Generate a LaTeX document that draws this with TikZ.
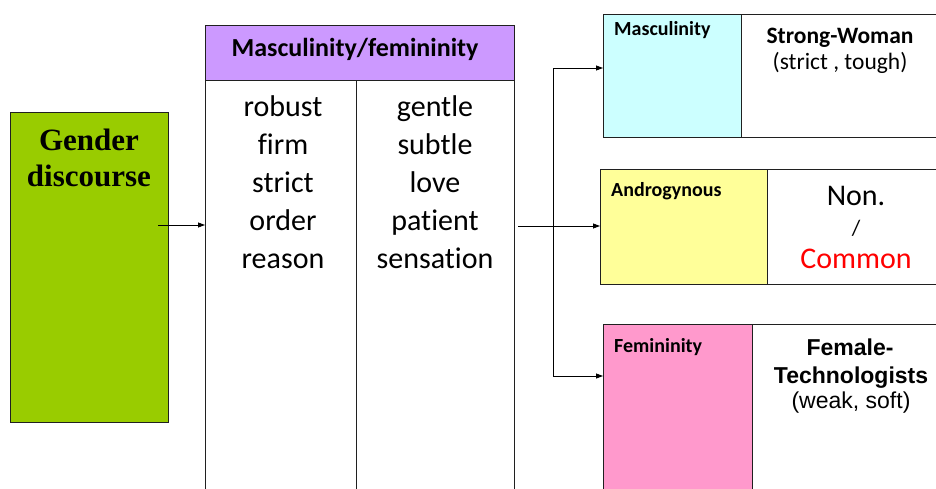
\documentclass[tikz,border=0pt]{standalone}
\usepackage{fontspec}
\setmainfont{Carlito}[Ligatures=NoCommon]
\newfontfamily\arialf{Liberation Sans}
\newfontfamily\timesf{Liberation Serif}
\usetikzlibrary{arrows.meta}
\definecolor{gcol}{HTML}{99CC00}
\definecolor{pcol}{HTML}{CC99FF}
\definecolor{ccol}{HTML}{CCFFFF}
\definecolor{ycol}{HTML}{FFFF99}
\definecolor{mcol}{HTML}{FF99CC}
\definecolor{bcol}{HTML}{202020}
\tikzset{
  box/.style={draw=bcol, line width=0.9pt, rectangle, inner sep=0pt, anchor=north west},
  arr/.style={line width=0.8pt, -{Triangle[length=7pt,width=5pt]}},
  ln/.style={line width=0.8pt},
  txt/.style={inner sep=0pt, anchor=base},
}
\begin{document}
\begin{tikzpicture}[x=1pt,y=-1pt]
\useasboundingbox (0,0) rectangle (936,488);
\clip (0,0) rectangle (936,488);
% green box
\node[box, fill=gcol, minimum width=158pt, minimum height=310pt] (gen) at (10,112) {};
\node[txt, align=center, font=\timesf\bfseries\fontsize{31}{36}\selectfont] (gentxt) at (89,186) {Gender\\discourse};
% middle
\node[box, fill=pcol, minimum width=309pt, minimum height=55pt] (mhead) at (205,25) {};
\node[txt, font=\bfseries\fontsize{26}{30}\selectfont] (mheadtxt) at (355,56) {Masculinity/femininity};
\node[box, minimum width=151pt, minimum height=430pt] (colL) at (205,80) {};
\node[box, minimum width=158pt, minimum height=430pt] (colR) at (356,80) {};
\node[txt, align=center, font=\fontsize{30}{38}\selectfont] (wordsL) at (283,268) {robust\\firm\\strict\\order\\reason};
\node[txt, align=center, font=\fontsize{30}{38}\selectfont] (wordsR) at (435,268) {gentle\\subtle\\love\\patient\\sensation};
% right boxes
\node[box, fill=ccol, minimum width=138pt, minimum height=123pt] (masc) at (603,14) {};
\node[box, minimum width=210pt, minimum height=123pt] (mascR) at (741,14) {};
\node[txt, anchor=base west, font=\bfseries\fontsize{20}{24}\selectfont] (masctxt) at (614,35) {Masculinity};
\node[txt, font=\bfseries\fontsize{23.5}{27}\selectfont] (sw) at (840,43) {Strong-Woman};
\node[txt, font=\fontsize{23.5}{27}\selectfont] (swsub) at (840,69) {(strict , tough)};

\node[box, fill=ycol, minimum width=167pt, minimum height=115pt] (andro) at (600,169) {};
\node[box, minimum width=190pt, minimum height=115pt] (androR) at (767,169) {};
\node[txt, anchor=base west, font=\bfseries\fontsize{20}{24}\selectfont] (androtxt) at (611,196) {Androgynous};
\node[txt, font=\fontsize{30}{36}\selectfont] (non) at (856,205) {Non.};
\node[txt, font=\fontsize{22}{26}\selectfont] (slash) at (856,235) {/};
\node[txt, text=red, font=\fontsize{30}{36}\selectfont] (common) at (856,268) {Common};

\node[box, fill=mcol, minimum width=149pt, minimum height=180pt] (fem) at (603,324) {};
\node[box, minimum width=200pt, minimum height=180pt] (femR) at (752,324) {};
\node[txt, anchor=base west, font=\bfseries\fontsize{20}{24}\selectfont] (femtxt) at (614,352) {Femininity};
\node[txt, font=\arialf\bfseries\fontsize{23}{27}\selectfont] (ft1) at (850,355) {Female-};
\node[txt, font=\arialf\bfseries\fontsize{23}{27}\selectfont] (ft2) at (851,383) {Technologists};
\node[txt, font=\arialf\fontsize{23}{27}\selectfont] (ft3) at (851,408) {(weak, soft)};
% connectors
\coordinate (gs) at (158,225);
\draw[arr] (gs) -- (gs -| colL.west);
\coordinate (ms) at (518,226);
\draw[arr] (ms) -- (ms -| andro.west);
\coordinate (vtop) at (553,68);
\coordinate (vbot) at (553,376);
\draw[ln] (vtop) -- (vbot);
\draw[arr] (vtop) -- (vtop -| masc.west);
\draw[arr] (vbot) -- (vbot -| fem.west);
\end{tikzpicture}
\end{document}
